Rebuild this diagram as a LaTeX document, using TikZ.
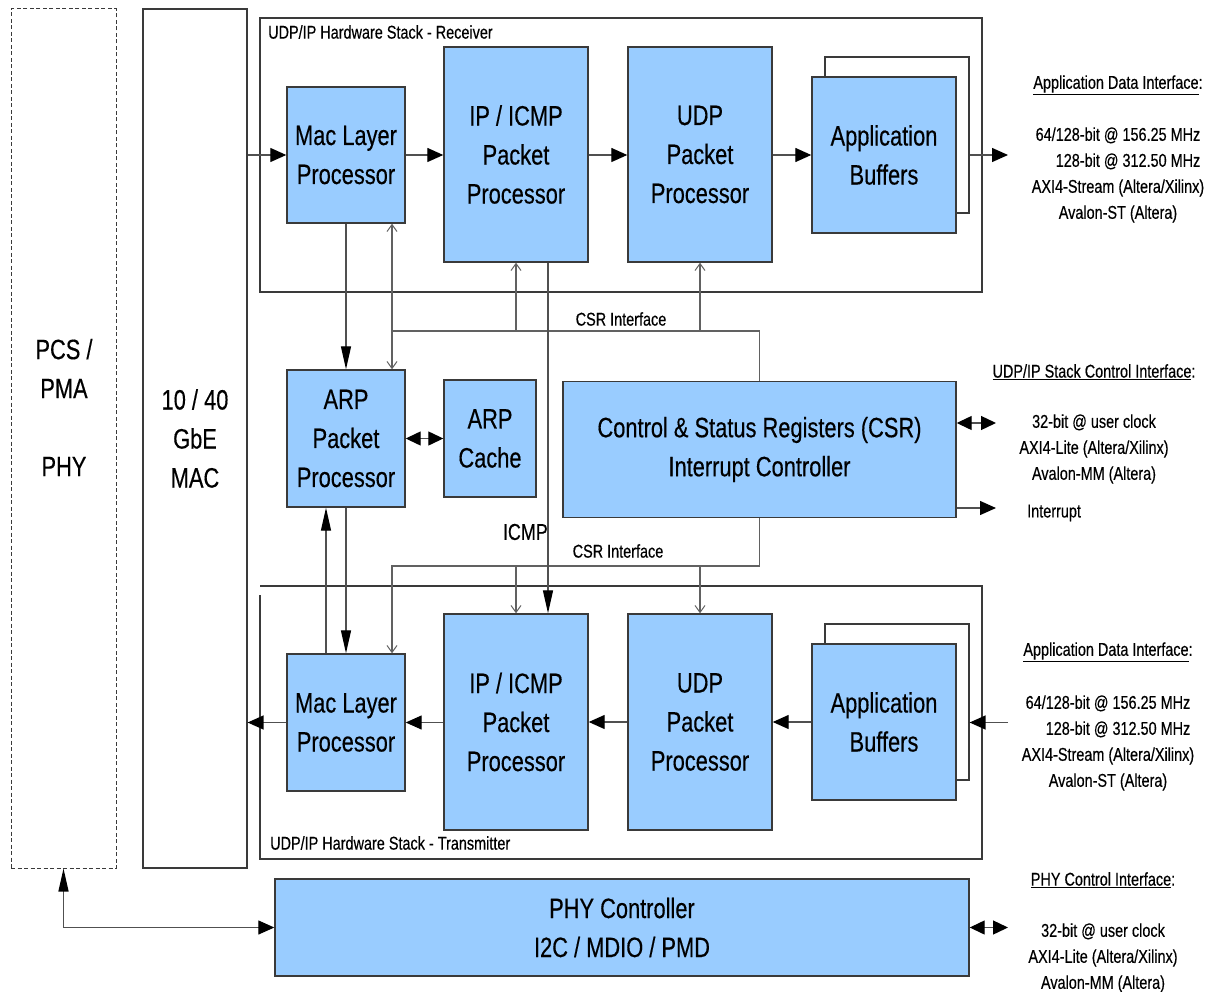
\documentclass[tikz,border=0pt]{standalone}
\usepackage{fontspec}
\setmainfont{Liberation Sans}[FakeStretch=0.78,FakeBold=0.35]
\usetikzlibrary{arrows.meta,calc}
\definecolor{boxfill}{HTML}{99CCFF}
\definecolor{boxline}{HTML}{3A3A3A}
\definecolor{wire}{HTML}{505050}
\newcommand\fbig{\fontsize{28}{39}\selectfont}
\newcommand\fsmall{\fontsize{18.5}{26}\selectfont}
\newcommand\fmid{\fontsize{23}{28}\selectfont}
\begin{document}
\begin{tikzpicture}[x=1pt,y=-1pt,
  blk/.style={draw=boxline, fill=boxfill, line width=1.4pt, align=center, inner sep=0pt, font=\fbig, text=black},
  ghost/.style={draw=boxline, fill=white, line width=1.2pt, inner sep=0pt},
  plainbox/.style={draw=boxline, line width=1.2pt, inner sep=0pt, align=center, font=\fbig},
  dashbox/.style={draw=boxline, dash pattern=on 4pt off 2.5pt, line width=1pt, inner sep=0pt},
  lbl/.style={font=\fsmall, inner sep=0pt, align=center},
  wireline/.style={draw=wire, line width=1.3pt},
  thinwire/.style={draw=wire!90, line width=1.1pt},
  harr/.style={wireline, -{Triangle[length=16pt,width=14pt,color=black]}},
  varr/.style={wireline, -{Triangle[length=23pt,width=10pt,color=black]}},
  dblh/.style={wireline, {Triangle[length=15pt,width=14pt,color=black]}-{Triangle[length=15pt,width=14pt,color=black]}},
  openarr/.style={thinwire, -{Straight Barb[length=7pt,width=10pt,line width=1pt]}},
  openboth/.style={thinwire, {Straight Barb[length=7pt,width=10pt,line width=1pt]}-{Straight Barb[length=7pt,width=10pt,line width=1pt]}}
]
\useasboundingbox (0,0) rectangle (1217,992);
\fill[white] (0,0) rectangle (1217,992);

% left columns
\node[dashbox, minimum width=105, minimum height=859] (pcs) at (63.5,438.5) {};
\node[font=\fbig, align=center, inner sep=0pt] (pcslbl) at (64,407.5) {PCS /\\PMA\\[39pt]PHY};
\node[plainbox, minimum width=104, minimum height=859] (mac) at (195,438.5) {10 / 40\\GbE\\MAC};

% frames
\node[draw=boxline, line width=1.2pt, minimum width=722, minimum height=274, inner sep=0pt] (rxframe) at (621,155) {};
\node[lbl, anchor=west] (rxlbl) at (268,32) {UDP/IP Hardware Stack - Receiver};
\draw[boxline, line width=1.2pt] (260,595) -- (260,859) -- (982,859) -- (982,586) -- (260,586);
\node[lbl, anchor=west] (txlbl) at (270,843) {UDP/IP Hardware Stack - Transmitter};

% receiver blocks
\node[blk, minimum width=118, minimum height=136] (rxmac) at (346,155) {Mac Layer\\Processor};
\node[blk, minimum width=144, minimum height=215] (rxip) at (516,154.5) {IP / ICMP\\Packet\\Processor};
\node[blk, minimum width=144, minimum height=215] (rxudp) at (700,154.5) {UDP\\Packet\\Processor};
\node[ghost, minimum width=144, minimum height=156] (rxbufb) at (897,135) {};
\node[blk, minimum width=144, minimum height=156] (rxbuf) at (884,155) {Application\\Buffers};

% middle blocks
\node[blk, minimum width=118, minimum height=137] (arp) at (346,438.5) {ARP\\Packet\\Processor};
\node[blk, minimum width=92, minimum height=117] (cache) at (490,438.5) {ARP\\Cache};
\node[blk, minimum width=393, minimum height=136] (csr) at (759.5,449.5) {Control \& Status Registers (CSR)\\Interrupt Controller};

% transmitter blocks
\node[blk, minimum width=118, minimum height=137] (txmac) at (346,722.5) {Mac Layer\\Processor};
\node[blk, minimum width=144, minimum height=216] (txip) at (516,722) {IP / ICMP\\Packet\\Processor};
\node[blk, minimum width=144, minimum height=216] (txudp) at (700,722) {UDP\\Packet\\Processor};
\node[ghost, minimum width=144, minimum height=156] (txbufb) at (897,702) {};
\node[blk, minimum width=144, minimum height=156] (txbuf) at (884,722) {Application\\Buffers};

% phy controller
\node[blk, minimum width=694, minimum height=97] (phy) at (622,927.5) {PHY Controller\\I2C / MDIO / PMD};

% coordinates
\coordinate (rxout) at (1008,155);
\coordinate (txin) at (1008,722.5);
\coordinate (busA) at (392,331);
\coordinate (busB) at (392,566);
\coordinate (icmpx) at (548,0);
\coordinate (upx) at (326,0);
\coordinate (csrio) at (996,423);
\coordinate (irq) at (996,508);
\coordinate (phyio) at (1008,927.5);

% receiver data path
\draw[harr] (mac.east |- rxmac.west) -- (rxmac.west);
\draw[harr] (rxmac.east) -- (rxmac.east -| rxip.west);
\draw[harr] (rxip.east |- rxmac.east) -- (rxmac.east -| rxudp.west);
\draw[harr] (rxudp.east |- rxbuf.west) -- (rxbuf.west);
\draw[harr] (rxbufb.east |- rxbuf.east) -- (rxout);

% transmitter data path
\draw[harr] (txin) -- (txin -| txbufb.east);
\draw[harr] (txbuf.west) -- (txbuf.west -| txudp.east);
\draw[harr] (txudp.west |- txbuf.west) -- (txbuf.west -| txip.east);
\draw[harr] (txip.west |- txmac.east) -- (txmac.east);
\draw[harr] (txmac.west) -- (txmac.west -| mac.east);

% ARP connections
\draw[varr] (rxmac.south) -- (arp.north);
\draw[dblh] (arp.east) -- (cache.west);
\draw[varr] (arp.south) -- (txmac.north);
\draw[varr] (txmac.north -| upx) -- (arp.south -| upx);

% CSR interface (receiver)
\draw[openboth] (rxmac.south -| busA) -- (arp.north -| busA);
\draw[thinwire] (busA) -| (csr.north);
\draw[openarr] (busA -| rxip.south) -- (rxip.south);
\draw[openarr] (busA -| rxudp.south) -- (rxudp.south);
\node[lbl] (csrlblA) at (621,319) {CSR Interface};

% CSR interface (transmitter)
\draw[openarr] (csr.south) |- (busB) -- (txmac.north -| busB);
\draw[openarr] (busB -| txip.north) -- (txip.north);
\draw[openarr] (busB -| txudp.north) -- (txudp.north);
\node[lbl] (csrlblB) at (618,551) {CSR Interface};

% ICMP
\draw[varr] (rxip.south -| icmpx) -- (txip.north -| icmpx);
\node[font=\fmid, inner sep=0pt, anchor=east] (icmp) at (548,532) {ICMP};

% CSR external
\draw[dblh] (csr.east |- csrio) -- (csrio);
\draw[harr] (csr.east |- irq) -- (irq);
\node[lbl, anchor=west] (irqlbl) at (1027,513) {Interrupt};

% PHY
\draw[wireline, {Triangle[length=23pt,width=10pt,color=black]}-{Triangle[length=16pt,width=14pt,color=black]}] (pcs.south) |- (phy.west);
\draw[dblh] (phy.east) -- (phyio);

% right-side texts
\node[lbl] (rxdt) at (1118,85) {\underline{Application Data Interface}:};
\node[lbl] (rxdb) at (1118,175) {64/128-bit @ 156.25 MHz\\\phantom{64/}128-bit @ 312.50 MHz\\AXI4-Stream (Altera/Xilinx)\\Avalon-ST (Altera)};
\node[lbl] (ctt) at (1094,372) {\underline{UDP/IP Stack Control Interface}:};
\node[lbl] (ctb) at (1094,449) {32-bit @ user clock\\AXI4-Lite (Altera/Xilinx)\\Avalon-MM (Altera)};
\node[lbl] (txdt) at (1108,652) {\underline{Application Data Interface}:};
\node[lbl] (txdb) at (1108,743) {64/128-bit @ 156.25 MHz\\\phantom{64/}128-bit @ 312.50 MHz\\AXI4-Stream (Altera/Xilinx)\\Avalon-ST (Altera)};
\node[lbl] (phyt) at (1103,880) {\underline{PHY Control Interface}:};
\node[lbl] (phyb) at (1103,958) {32-bit @ user clock\\AXI4-Lite (Altera/Xilinx)\\Avalon-MM (Altera)};
\end{tikzpicture}
\end{document}
